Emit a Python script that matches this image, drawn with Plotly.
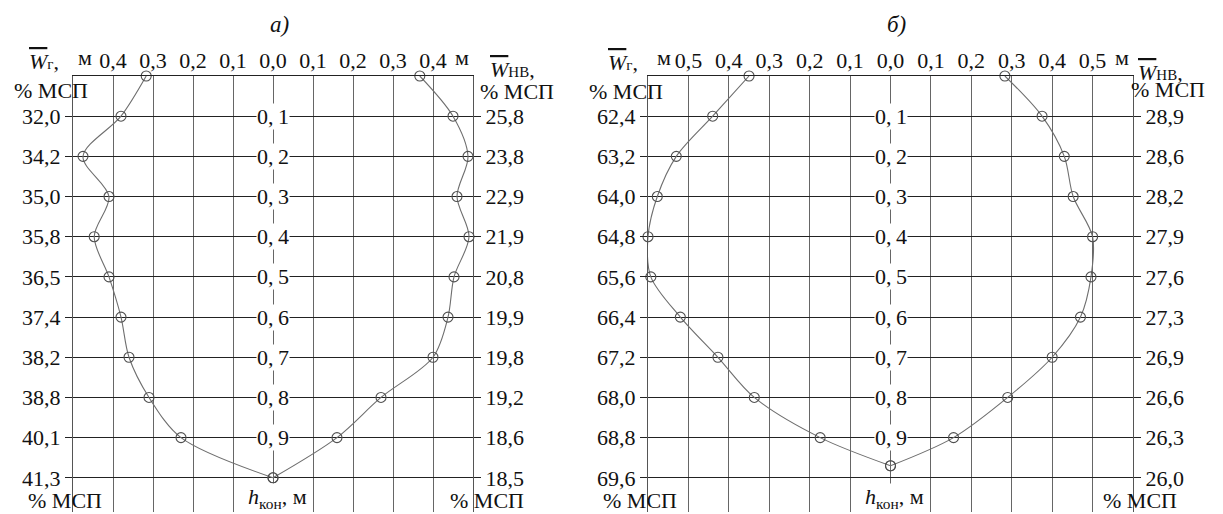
import plotly.graph_objects as go

# depth levels h_кон, m
h = [0.0, 0.1, 0.2, 0.3, 0.4, 0.5, 0.6, 0.7, 0.8, 0.9, 1.0]
h_b = [0.0, 0.1, 0.2, 0.3, 0.4, 0.5, 0.6, 0.7, 0.8, 0.9, 0.97]

# panel а) distances, m
a_left = [0.317, 0.38, 0.475, 0.41, 0.447, 0.41, 0.38, 0.36, 0.31, 0.23, 0.0]
a_right = [0.367, 0.45, 0.4875, 0.46, 0.49, 0.4525, 0.4375, 0.40, 0.27, 0.16, 0.0]
# panel б) distances, m
b_left = [0.35, 0.44, 0.53, 0.577, 0.60, 0.593, 0.52, 0.427, 0.337, 0.174, 0.0]
b_right = [0.283, 0.375, 0.43, 0.452, 0.50, 0.496, 0.47, 0.40, 0.29, 0.156, 0.0]

# axis tick labels
row_vals = [0.1, 0.2, 0.3, 0.4, 0.5, 0.6, 0.7, 0.8, 0.9, 1.0]
wg_a = ["32,0", "34,2", "35,0", "35,8", "36,5", "37,4", "38,2", "38,8", "40,1", "41,3"]
wnv_a = ["25,8", "23,8", "22,9", "21,9", "20,8", "19,9", "19,8", "19,2", "18,6", "18,5"]
wg_b = ["62,4", "63,2", "64,0", "64,8", "65,6", "66,4", "67,2", "68,0", "68,8", "69,6"]
wnv_b = ["28,9", "28,6", "28,2", "27,9", "27,6", "27,3", "26,9", "26,6", "26,3", "26,0"]
center_vals = [0.1, 0.2, 0.3, 0.4, 0.5, 0.6, 0.7, 0.8, 0.9]
center_text = ["0,1", "0,2", "0,3", "0,4", "0,5", "0,6", "0,7", "0,8", "0,9"]
xa_vals = [-0.4, -0.3, -0.2, -0.1, 0.0, 0.1, 0.2, 0.3, 0.4]
xa_text = ["0,4", "0,3", "0,2", "0,1", "0,0", "0,1", "0,2", "0,3", "0,4"]
xb_vals = [-0.5, -0.4, -0.3, -0.2, -0.1, 0.0, 0.1, 0.2, 0.3, 0.4, 0.5]
xb_text = ["0,5", "0,4", "0,3", "0,2", "0,1", "0,0", "0,1", "0,2", "0,3", "0,4", "0,5"]

FONT = "Liberation Serif"
FS = 22
W, H = 1223, 514
LINE = "#6e6e6e"
MARK = "#505050"

fig = go.Figure()


def curve(xs, ys, xa, ya):
    fig.add_trace(go.Scatter(
        x=xs, y=ys, xaxis=xa, yaxis=ya, mode="lines+markers",
        line=dict(color=LINE, width=1.1, shape="spline", smoothing=0.9),
        marker=dict(symbol="circle-open", size=10, color=MARK, line=dict(width=1.1)),
        cliponaxis=False, showlegend=False, hoverinfo="skip"))


curve([-v for v in a_left], h, "x", "y")
curve(a_right, h, "x", "y2")
curve([-v for v in b_left], h_b, "x2", "y3")
curve(b_right, h_b, "x2", "y4")

top_px, bot_px = 76, 512
ydom = [1 - bot_px / H, 1 - top_px / H]
yr = [(bot_px - top_px) / 401.8, 0]

xcommon = dict(side="top", showline=True, linecolor="#222", linewidth=1, automargin=False,
               showgrid=True, gridcolor="#666", gridwidth=1.3, zeroline=False,
               ticks="", ticklabelstandoff=-2, tickfont=dict(family=FONT, size=FS, color="#111"))
ycommon = dict(range=yr, tickvals=row_vals, showline=True, linecolor="#555", linewidth=1.4,
               ticks="outside", ticklen=7, tickcolor="#222", tickwidth=1, zeroline=False,
               automargin=False, ticklabelstandoff=0,
               tickfont=dict(family=FONT, size=FS, color="#111"))

fig.update_layout(
    width=W, height=H, margin=dict(l=0, r=0, t=0, b=0, autoexpand=False),
    paper_bgcolor="white", plot_bgcolor="white",
    xaxis=dict(domain=[73 / W, 473 / W], range=[-0.5, 0.5], anchor="y",
               tickvals=xa_vals, ticktext=xa_text, **xcommon),
    yaxis=dict(domain=ydom, anchor="x", side="left", ticktext=wg_a,
               showgrid=True, gridcolor="#222", gridwidth=1, **ycommon),
    yaxis2=dict(domain=ydom, anchor="x", overlaying="y", side="right", ticktext=wnv_a,
                showgrid=False, **ycommon),
    xaxis2=dict(domain=[648 / W, 1133 / W], range=[-0.6, 0.6], anchor="y3",
                tickvals=xb_vals, ticktext=xb_text, **xcommon),
    yaxis3=dict(domain=ydom, anchor="x2", side="left", ticktext=wg_b,
                showgrid=True, gridcolor="#222", gridwidth=1, **ycommon),
    yaxis4=dict(domain=ydom, anchor="x2", overlaying="y3", side="right", ticktext=wnv_b,
                showgrid=False, **ycommon),
)

ann = []
tf = dict(family=FONT, size=FS, color="#111")
# centre depth labels
for xr, yref in (("x", "y"), ("x2", "y3")):
    for v, t in zip(center_vals, center_text):
        ann.append(dict(x=0, y=v, xref=xr, yref=yref, text=t.replace(",", ",\u2009"),
                        showarrow=False, font=tf, bgcolor="white", borderpad=0,
                        xanchor="center", yanchor="middle"))
    ann.append(dict(x=0.01, y=1.05, xref=xr, yref=yref, text="<i>h</i><sub>кон</sub>, м",
                    showarrow=False, font=tf, bgcolor="white", borderpad=0,
                    xanchor="center", yanchor="middle"))


def pann(px, py, text, size=FS, **kw):
    ann.append(dict(x=px / W, y=1 - py / H, xref="paper", yref="paper", text=text,
                    xanchor="center", yanchor="middle",
                    showarrow=False, font=dict(family=FONT, size=size, color="#111"), **kw))


OL = '<span style="text-decoration:overline"><i>W</i></span>'
# titles
pann(279, 24, "<i>а)</i>", size=23)
pann(897, 24, "<i>б)</i>", size=23)
# top "м" unit labels
pann(85, 57, "м")
pann(462, 57, "м")
pann(664, 57, "м")
pann(1122, 57, "м")
# side headers
pann(44, 61, OL + '<span style="font-size:15px">г</span>,')
pann(51, 90, "% МСП")
pann(512, 70, OL + '<span style="font-size:15px">НВ</span>,')
pann(517, 91, "% МСП")
pann(623, 62, OL + '<span style="font-size:15px">г</span>,')
pann(626, 91, "% МСП")
pann(1160, 73, OL + '<span style="font-size:15px">НВ</span>,')
pann(1168, 89, "% МСП")
# bottom units
pann(65, 500, "% МСП")
pann(487, 500, "% МСП")
pann(640, 500, "% МСП")
pann(1140, 500, "% МСП")

fig.update_layout(annotations=ann)
fig.write_html("out.html", config={"displayModeBar": False},
               post_script="document.body.style.margin='0';document.body.style.overflow='hidden';")
